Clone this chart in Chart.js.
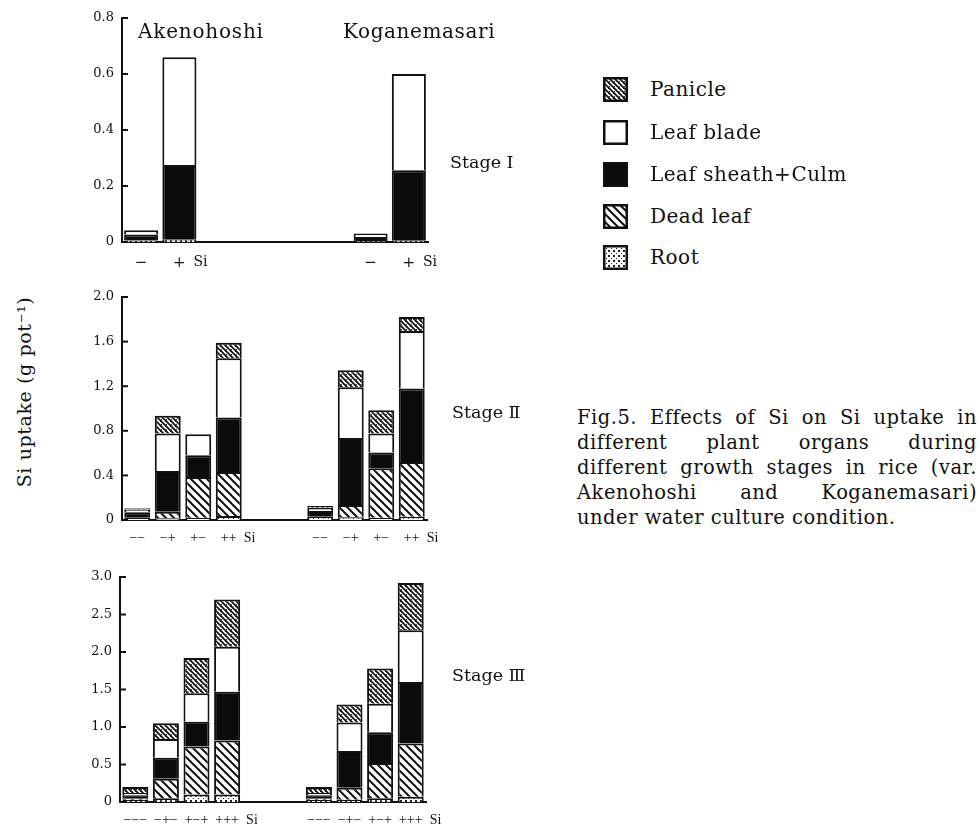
<!DOCTYPE html>
<html><head><meta charset="utf-8">
<script src="https://cdn.jsdelivr.net/npm/chart.js@4.4.1/dist/chart.umd.min.js"></script>
<style>
body{margin:0;background:#fff;width:980px;height:827px;position:relative;overflow:hidden;font-family:"DejaVu Serif",serif;color:#111}
.abs{position:absolute;white-space:nowrap;line-height:20px}
canvas.panel{position:absolute}
.lg{position:absolute;left:603px;width:25px;height:25px}
.cap{position:absolute;left:577px;top:405px;width:400px;font-size:19.5px;letter-spacing:0.5px;line-height:25px}
.cap div{text-align:justify;text-align-last:justify;white-space:nowrap}
.cap div.last{text-align:left;text-align-last:left}
</style></head><body>
<canvas class="panel" id="c1" width="440" height="280" style="left:40px;top:0"></canvas>
<canvas class="panel" id="c2" width="440" height="270" style="left:40px;top:280px"></canvas>
<canvas class="panel" id="c3" width="440" height="272" style="left:40px;top:555px"></canvas>
<div id="overlay"></div>
<script>
// ---- categories ----
const varieties = ['Akenohoshi', 'Koganemasari'];
const stageNames = ['Stage Ⅰ', 'Stage Ⅱ', 'Stage Ⅲ'];
const s1Categories = ['−', '+'];
const s2Categories = ['−−', '−+', '+−', '++'];
const s3Categories = ['−−−', '−+−', '+−+', '+++'];
// stack order, bottom -> top
const organs = ['Root', 'Dead leaf', 'Leaf sheath+Culm', 'Leaf blade', 'Panicle'];
const legendOrder = ['Panicle', 'Leaf blade', 'Leaf sheath+Culm', 'Dead leaf', 'Root'];

// ---- values (g/pot); first half Akenohoshi, second half Koganemasari ----
const s1Root    = [0.005, 0.010, 0.004, 0.006];
const s1Dead    = [0, 0, 0, 0];
const s1Sheath  = [0.022, 0.265, 0.014, 0.250];
const s1Blade   = [0.015, 0.385, 0.012, 0.344];
const s1Panicle = [0, 0, 0, 0];

const s2Root    = [0.020, 0.015, 0.020, 0.035, 0.030, 0.025, 0.020, 0.030];
const s2Dead    = [0.000, 0.060, 0.365, 0.395, 0.000, 0.110, 0.445, 0.490];
const s2Sheath  = [0.050, 0.365, 0.195, 0.490, 0.050, 0.600, 0.140, 0.660];
const s2Blade   = [0.025, 0.336, 0.190, 0.530, 0.030, 0.455, 0.170, 0.516];
const s2Panicle = [0.010, 0.158, 0.000, 0.140, 0.015, 0.154, 0.210, 0.124];

const s3Root    = [0.03, 0.05, 0.10, 0.10, 0.03, 0.03, 0.05, 0.07];
const s3Dead    = [0.02, 0.26, 0.64, 0.72, 0.02, 0.16, 0.47, 0.71];
const s3Sheath  = [0.04, 0.28, 0.33, 0.65, 0.04, 0.49, 0.41, 0.82];
const s3Blade   = [0.03, 0.25, 0.38, 0.60, 0.03, 0.38, 0.38, 0.69];
const s3Panicle = [0.08, 0.21, 0.47, 0.63, 0.08, 0.24, 0.47, 0.63];

// ---- tick labels ----
const s1Ticks = [0, 0.2, 0.4, 0.6, 0.8];
const s2Ticks = [0, 0.4, 0.8, 1.2, 1.6, 2.0];
const s3Ticks = [0, 0.5, 1.0, 1.5, 2.0, 2.5, 3.0];
const yTitle = 'Si uptake  (g pot⁻¹)';
const captionLines = [
  'Fig.5. Effects of Si on Si uptake in',
  'different plant organs during',
  'different growth stages in rice (var.',
  'Akenohoshi and Koganemasari)',
  'under water culture condition.'
];

// ---- fills ----
function tile(size, draw) {
  const c = document.createElement('canvas');
  c.width = c.height = size;
  const g = c.getContext('2d');
  g.fillStyle = '#fff'; g.fillRect(0, 0, size, size);
  draw(g, size);
  return c;
}
function diag(g, s, w) {
  g.strokeStyle = '#111'; g.lineWidth = w;
  for (let o = -s; o <= s; o += s) {
    g.beginPath(); g.moveTo(o - 1, -1); g.lineTo(o + s + 1, s + 1); g.stroke();
  }
}
const tiles = {
  'Panicle': tile(5, (g, s) => { diag(g, s, 1.8); g.fillStyle = '#fff'; g.fillRect(3, 1, 1, 1); g.fillStyle = '#333'; g.fillRect(1, 4, 1, 1); }),
  'Dead leaf': tile(8, (g, s) => diag(g, s, 2)),
  'Root': tile(5, (g, s) => { g.fillStyle = '#222'; g.fillRect(0, 0, 2, 2); g.fillRect(3, 3, 1, 1); })
};
function fillFor(name, ctx) {
  if (name === 'Leaf blade') return '#ffffff';
  if (name === 'Leaf sheath+Culm') return '#0b0b0b';
  return ctx.createPattern(tiles[name], 'repeat');
}

// ---- plugins ----
const inwardTicks = {
  id: 'inwardTicks',
  afterDraw(chart) {
    const y = chart.scales.y, ctx = chart.ctx, L = chart.chartArea.left;
    ctx.save(); ctx.strokeStyle = '#111'; ctx.lineWidth = 2;
    y.ticks.forEach((t, i) => {
      const py = y.getPixelForTick(i);
      ctx.beginPath(); ctx.moveTo(L, py); ctx.lineTo(L + 6, py); ctx.stroke();
    });
    ctx.restore();
  }
};
const siLabel = {
  id: 'siLabel',
  afterDraw(chart, args, opts) {
    const x = chart.scales.x, ctx = chart.ctx;
    ctx.save(); ctx.font = opts.font; ctx.fillStyle = '#111';
    ctx.textBaseline = 'middle'; ctx.textAlign = 'left';
    opts.indices.forEach(i => ctx.fillText('Si', x.getPixelForTick(i) + opts.dx, chart.chartArea.bottom + opts.dy));
    ctx.restore();
  }
};

function fmt(v) { return v === 0 ? '0' : v.toFixed(1); }

function makePanel(id, cats, gap, series, ticks, geo) {
  const n = cats.length;
  const labels = [...cats, ...Array(gap).fill(''), ...cats];
  const build = arr => [...arr.slice(0, n), ...Array(gap).fill(null), ...arr.slice(n)];
  const cv = document.getElementById(id);
  const ctx = cv.getContext('2d');
  new Chart(cv, {
    type: 'bar',
    data: {
      labels,
      datasets: organs.map((name, k) => ({
        label: name,
        data: build(series[k]),
        backgroundColor: fillFor(name, ctx),
        borderColor: '#111',
        borderWidth: 2,
        barPercentage: geo.barPct,
        categoryPercentage: 1
      }))
    },
    options: {
      responsive: false, animation: false,
      layout: { padding: { top: geo.padTop, right: geo.padRight, left: 0, bottom: 0 } },
      plugins: {
        legend: { display: false }, tooltip: { enabled: false },
        siLabel: { indices: [n - 1, labels.length - 1], dx: geo.siDx, dy: geo.siDy, font: geo.siFont }
      },
      scales: {
        x: {
          stacked: true,
          grid: { display: false, drawTicks: false },
          border: { display: true, color: '#111', width: 2 },
          ticks: { font: geo.xFont, color: '#111', padding: geo.xPad, autoSkip: false, maxRotation: 0 },
          afterFit(s) { s.height = geo.xHeight; }
        },
        y: {
          stacked: true, min: ticks[0], max: ticks[ticks.length - 1],
          grid: { display: false, drawTicks: false },
          border: { display: true, color: '#111', width: 2 },
          ticks: { font: { family: 'DejaVu Serif', size: 13 }, color: '#111', padding: 8, callback: v => fmt(v) },
          afterBuildTicks(s) { s.ticks = ticks.map(v => ({ value: v })); },
          afterFit(s) { s.width = geo.yWidth; }
        }
      }
    },
    plugins: [inwardTicks, siLabel]
  });
}

makePanel('c1', s1Categories, 4, [s1Root, s1Dead, s1Sheath, s1Blade, s1Panicle], s1Ticks,
  { yWidth: 82, padTop: 18, padRight: 52, xHeight: 38, barPct: 0.89,
    xFont: { family: 'DejaVu Serif', size: 15 }, xPad: 12, siDx: 14, siDy: 20, siFont: '14px "DejaVu Serif"' });
makePanel('c2', s2Categories, 2, [s2Root, s2Dead, s2Sheath, s2Blade, s2Panicle], s2Ticks,
  { yWidth: 82, padTop: 17, padRight: 53, xHeight: 30, barPct: 0.85,
    xFont: { family: 'Liberation Serif', size: 14 }, xPad: 10, siDx: 15, siDy: 18, siFont: '14px "Liberation Serif"' });
makePanel('c3', s3Categories, 2, [s3Root, s3Dead, s3Sheath, s3Blade, s3Panicle], s3Ticks,
  { yWidth: 80, padTop: 22, padRight: 54, xHeight: 25, barPct: 0.85,
    xFont: { family: 'Liberation Serif', size: 14 }, xPad: 10, siDx: 19, siDy: 18, siFont: '14px "Liberation Serif"' });

// ---- text overlays ----
const ov = document.getElementById('overlay');
function addText(txt, left, cy, size, extra) {
  const d = document.createElement('div');
  d.className = 'abs'; d.textContent = txt;
  d.style.left = left + 'px'; d.style.top = (cy - 10) + 'px'; d.style.fontSize = size + 'px';
  if (extra) Object.assign(d.style, extra);
  ov.appendChild(d); return d;
}
addText(varieties[0], 138, 31, 20, { letterSpacing: '0.8px' });
addText(varieties[1], 343, 31, 20, { letterSpacing: '0.6px' });
addText(stageNames[0], 450, 162, 17.5);
addText(stageNames[1], 452, 412, 17.5);
addText(stageNames[2], 452, 675, 17.5);
addText(yTitle, 24, 392, 19, { letterSpacing: '0.6px', transform: 'translate(-50%,0) rotate(-90deg)', transformOrigin: '50% 50%' });

// legend
const legendY = [89, 132, 174, 216, 257];
legendOrder.forEach((name, i) => {
  const c = document.createElement('canvas');
  c.width = 25; c.height = 25; c.className = 'lg';
  c.style.top = (legendY[i] - 12) + 'px';
  const g = c.getContext('2d');
  g.fillStyle = fillFor(name, g); g.fillRect(0, 0, 25, 25);
  g.strokeStyle = '#111'; g.lineWidth = 2.5; g.strokeRect(1.25, 1.25, 22.5, 22.5);
  ov.appendChild(c);
  addText(name, 650, legendY[i], 20, { letterSpacing: '0.5px' });
});

// caption
const cap = document.createElement('div');
cap.className = 'cap';
captionLines.forEach((l, i) => {
  const d = document.createElement('div');
  d.textContent = l;
  if (i === captionLines.length - 1) d.className = 'last';
  cap.appendChild(d);
});
ov.appendChild(cap);
</script>
</body></html>
